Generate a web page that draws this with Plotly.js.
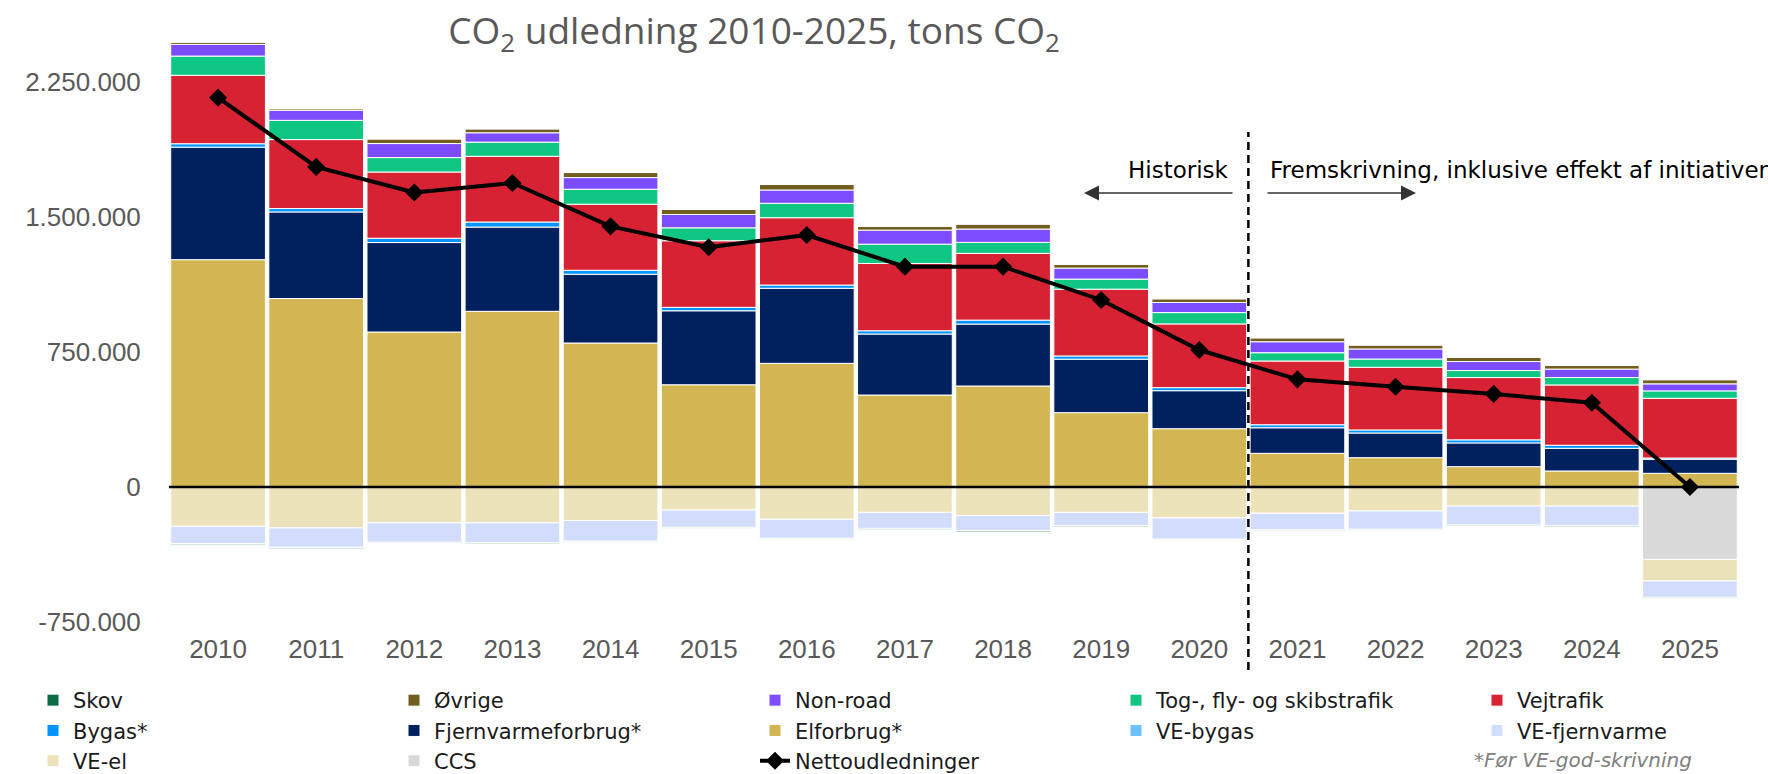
<!DOCTYPE html>
<html>
<head>
<meta charset="utf-8">
<script src="https://cdn.plot.ly/plotly-3.0.1.min.js"></script>
<style>
  html, body { margin: 0; padding: 0; background: #fff; }
  #chart { width: 1768px; height: 774px; }
</style>
</head>
<body>
<div id="chart"></div>
<script>
// =============================================================================
// Data (tons CO2)
// =============================================================================

var years = ["2010", "2011", "2012", "2013", "2014", "2015", "2016", "2017",
             "2018", "2019", "2020", "2021", "2022", "2023", "2024", "2025"];

// positive stack, bottom to top
var elforbrug   = [1263000, 1047000, 861000, 976000, 800000, 568000, 687000, 511000, 561000, 413000, 324000, 187000, 163000, 113000, 89000, 76000];
var fjernvarme  = [625000, 481000, 497000, 468000, 382000, 411000, 417000, 339000, 344000, 297000, 211000, 142000, 137000, 132000, 126000, 78000];
var bygas       = [19000, 19000, 24000, 28000, 22000, 19000, 18000, 18000, 22000, 18000, 17000, 17000, 17000, 17000, 17000, 7000];
var vejtrafik   = [380000, 383000, 368000, 365000, 367000, 370000, 374000, 374000, 371000, 371000, 354000, 354000, 348000, 346000, 335000, 332000];
var tog         = [107000, 107000, 80000, 79000, 83000, 72000, 80000, 107000, 61000, 56000, 63000, 46000, 46000, 39000, 41000, 41000];
var nonroad     = [65000, 56000, 78000, 52000, 65000, 74000, 74000, 78000, 74000, 61000, 56000, 61000, 56000, 50000, 47000, 39000];
var ovrige      = [13000, 9000, 26000, 22000, 28000, 28000, 32000, 22000, 28000, 22000, 21000, 22000, 22000, 24000, 20000, 22000];

// negative stack, top to bottom
var ccs          = [0, 0, 0, 0, 0, 0, 0, 0, 0, 0, 0, 0, 0, 0, 0, -402000];
var veEl         = [-218000, -227000, -199000, -199000, -186000, -128000, -179000, -141000, -159000, -141000, -172000, -146000, -133000, -106000, -106000, -120000];
var veFjernvarme = [-98000, -108000, -108000, -111000, -115000, -96000, -106000, -89000, -83000, -74000, -118000, -93000, -102000, -102000, -109000, -91000];
var veBygas      = [-2000, -2000, -2000, -2000, -2000, -2000, -2000, -2000, -2000, -2000, -2000, -2000, -2000, -2000, -2000, -2000];
var skov         = [-6000, -6000, -5000, -5000, -5000, -5000, -5000, -5000, -6000, -5000, -5000, -6000, -5000, -5000, -5000, -5000];

var netto = [2163000, 1778000, 1636000, 1689000, 1448000, 1332000, 1400000, 1224000, 1224000, 1039000, 761000, 598000, 557000, 517000, 468000, 0];

var yTicks = [-750000, 0, 750000, 1500000, 2250000];

// =============================================================================
// Layout helpers
// =============================================================================

var W = 1768, H = 774;
var ML = 169, MR = 29, MT = 37, MB = 143;

function px2x(px) { return (px - ML) / (W - ML - MR); }
function px2y(py) { return (H - MB - py) / (H - MT - MB); }

function fmt(v) {
    var s = Math.abs(v).toString().replace(/\B(?=(\d{3})+(?!\d))/g, ".");
    return (v < 0 ? "-" : "") + s;
}

function bar(name, values, color, legend, rank) {
    return {
        type: "bar",
        name: name,
        x: years,
        y: values,
        marker: {color: color, line: {color: "#ffffff", width: 1}},
        legend: legend,
        legendrank: rank,
        hoverinfo: "name+y"
    };
}

var data = [
    bar("Elforbrug*", elforbrug, "#D2B654", "legend3", 2),
    bar("Fjernvarmeforbrug*", fjernvarme, "#00205E", "legend2", 2),
    bar("Bygas*", bygas, "#0094FF", "legend", 2),
    bar("Vejtrafik", vejtrafik, "#D62233", "legend5", 1),
    bar("Tog-, fly- og skibstrafik", tog, "#0FC683", "legend4", 1),
    bar("Non-road", nonroad, "#7B4DFF", "legend3", 1),
    bar("Øvrige", ovrige, "#725E21", "legend2", 1),
    bar("CCS", ccs, "#D9D9D9", "legend2", 3),
    bar("VE-el", veEl, "#EDE3BB", "legend", 3),
    bar("VE-fjernvarme", veFjernvarme, "#D1DDFB", "legend5", 2),
    bar("VE-bygas", veBygas, "#6EC1FF", "legend4", 2),
    bar("Skov", skov, "#0B6B45", "legend", 1),
    {
        type: "scatter",
        mode: "lines+markers",
        name: "Nettoudledninger",
        x: years,
        y: netto,
        line: {color: "#000000", width: 4},
        marker: {symbol: "diamond", size: 14, color: "#000000"},
        legend: "legend3",
        legendrank: 3
    }
];

function legendCol(textPx) {
    return {
        x: (textPx - 40) / W, xref: "container", xanchor: "left",
        y: 1 - 680 / H, yref: "container", yanchor: "top",
        orientation: "v",
        traceorder: "normal",
        tracegroupgap: 0,
        bgcolor: "rgba(0,0,0,0)",
        font: {family: "DejaVu Sans", size: 21, color: "#1a1a1a"}
    };
}

var splitX = years.indexOf("2021") / years.length;

var layout = {
    width: W,
    height: H,
    margin: {l: ML, r: MR, t: MT, b: MB, pad: 0, autoexpand: false},
    paper_bgcolor: "#ffffff",
    plot_bgcolor: "#ffffff",
    separators: ",.",
    barmode: "relative",
    bargap: 0.035,
    title: {
        text: "CO<sub>2</sub> udledning 2010-2025, tons CO<sub>2</sub>",
        x: 754 / W, xref: "container", xanchor: "center",
        y: 1 - 31 / H, yref: "container", yanchor: "middle",
        font: {family: "Open Sans", size: 37, color: "#595959"}
    },
    xaxis: {
        type: "category",
        range: [-0.5, years.length - 0.5],
        showgrid: false,
        showline: false,
        zeroline: false,
        ticks: "",
        tickfont: {family: "Liberation Sans", size: 26, color: "#595959"}
    },
    yaxis: {
        range: [-800000, 2500000],
        showgrid: false,
        showline: false,
        zeroline: false,
        ticks: "outside",
        ticklen: 22,
        tickcolor: "rgba(0,0,0,0)",
        tickvals: yTicks,
        ticktext: yTicks.map(fmt),
        tickfont: {family: "Liberation Sans", size: 26, color: "#595959"}
    },
    legend: legendCol(73),
    legend2: legendCol(434),
    legend3: legendCol(795),
    legend4: legendCol(1156),
    legend5: legendCol(1517),
    shapes: [
        {
            type: "line", xref: "paper", yref: "y",
            x0: 0, x1: 1, y0: 0, y1: 0,
            line: {color: "#000000", width: 2.5},
            layer: "above"
        },
        {
            type: "line", xref: "paper", yref: "paper",
            x0: splitX, x1: splitX, y0: px2y(670), y1: px2y(132),
            line: {color: "#000000", width: 2.5, dash: "8px,5px"},
            layer: "above"
        }
    ],
    annotations: [
        {
            text: "Historisk", showarrow: false,
            xref: "paper", yref: "paper", x: px2x(1231), y: px2y(170),
            xanchor: "right", yanchor: "middle",
            font: {family: "DejaVu Sans", size: 23, color: "#000000"}
        },
        {
            text: "Fremskrivning, inklusive effekt af initiativer", showarrow: false,
            xref: "paper", yref: "paper", x: px2x(1268), y: px2y(170),
            xanchor: "left", yanchor: "middle",
            font: {family: "DejaVu Sans", size: 23, color: "#000000"}
        },
        {
            text: "", showarrow: true,
            xref: "paper", yref: "paper", x: px2x(1084), y: px2y(193),
            axref: "pixel", ayref: "pixel", ax: 150, ay: 0,
            arrowhead: 2, arrowsize: 2, arrowwidth: 1.5, arrowcolor: "#333333",
            standoff: 0, startstandoff: 0
        },
        {
            text: "", showarrow: true,
            xref: "paper", yref: "paper", x: px2x(1416), y: px2y(193),
            axref: "pixel", ayref: "pixel", ax: -150, ay: 0,
            arrowhead: 2, arrowsize: 2, arrowwidth: 1.5, arrowcolor: "#333333",
            standoff: 0, startstandoff: 0
        },
        {
            text: "<i>*Før VE-god-skrivning</i>", showarrow: false,
            xref: "paper", yref: "paper", x: px2x(1472), y: px2y(760),
            xanchor: "left", yanchor: "middle",
            font: {family: "DejaVu Sans", size: 20, color: "#808080"}
        }
    ]
};

Plotly.newPlot("chart", data, layout, {displayModeBar: false, staticPlot: true});
</script>
</body>
</html>
